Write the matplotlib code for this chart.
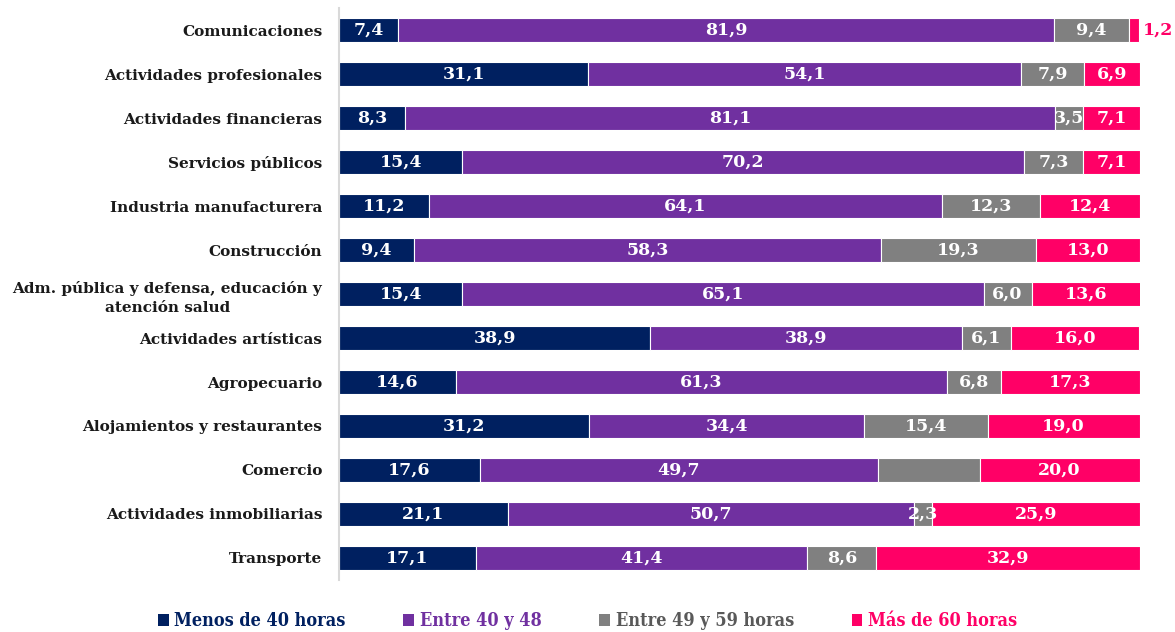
import numpy as np
import matplotlib.pyplot as plt
from matplotlib.patches import Patch

categories = ["Comunicaciones", "Actividades profesionales", "Actividades financieras",
              "Servicios públicos", "Industria manufacturera", "Construcción",
              "Adm. pública y defensa, educación y\natención salud",
              "Actividades artísticas", "Agropecuario", "Alojamientos y restaurantes",
              "Comercio", "Actividades inmobiliarias", "Transporte"]
menos40 = [7.4, 31.1, 8.3, 15.4, 11.2, 9.4, 15.4, 38.9, 14.6, 31.2, 17.6, 21.1, 17.1]
entre40_48 = [81.9, 54.1, 81.1, 70.2, 64.1, 58.3, 65.1, 38.9, 61.3, 34.4, 49.7, 50.7, 41.4]
entre49_59 = [9.4, 7.9, 3.5, 7.3, 12.3, 19.3, 6.0, 6.1, 6.8, 15.4, 12.7, 2.3, 8.6]
mas60 = [1.2, 6.9, 7.1, 7.1, 12.4, 13.0, 13.6, 16.0, 17.3, 19.0, 20.0, 25.9, 32.9]
series_names = ["Menos de 40 horas", "Entre 40 y 48", "Entre 49 y 59 horas", "Más de 60 horas"]
colors = ["#002060", "#7030A0", "#808080", "#FF0066"]

font = "DejaVu Serif"
fig = plt.figure(figsize=(11.75, 6.32), dpi=100)
ax = fig.add_axes([0.2885, 0.0823, 0.6815, 0.905])

y = np.arange(len(categories))
left = np.zeros(len(categories))
for vals, c in zip([menos40, entre40_48, entre49_59, mas60], colors):
    vals = np.array(vals)
    ax.barh(y, vals, left=left, height=0.54, color=c, edgecolor="white", linewidth=0.8)
    for i, v in enumerate(vals):
        if categories[i] == "Comercio" and c == "#808080":
            continue  # no label on this segment in the original
        if v < 2:
            ax.text(left[i] + v + 0.5, y[i], f"{v:.1f}".replace(".", ","), color=c,
                    ha="left", va="center", fontsize=12.5, fontweight="bold", family=font)
        else:
            ax.text(left[i] + v / 2, y[i], f"{v:.1f}".replace(".", ","), color="white",
                    ha="center", va="center", fontsize=12.5, fontweight="bold", family=font)
    left += vals

ax.set_xlim(0, 100)
ax.set_ylim(len(categories) - 0.5, -0.5)
ax.set_yticks(y)
ax.set_yticklabels(categories, fontsize=11, fontweight="bold", family=font,
                   multialignment="center", linespacing=1.45, color="#1a1a1a")
ax.tick_params(axis="y", length=0, pad=12)
ax.set_xticks([])
for s in ["top", "right", "bottom"]:
    ax.spines[s].set_visible(False)
ax.spines["left"].set_color("#d9d9d9")
ax.spines["left"].set_linewidth(1.5)

handles = [Patch(facecolor=c) for c in colors]
leg = fig.legend(handles, series_names, loc="center", bbox_to_anchor=(0.5, 0.017),
                 ncol=4, frameon=False, handlelength=0.6, handleheight=0.6,
                 handletextpad=0.3, columnspacing=3.2,
                 prop={"family": font, "weight": "bold", "size": 13, "stretch": "condensed"})
for t, c in zip(leg.get_texts(), colors):
    t.set_color(c)
leg.get_texts()[2].set_color("#595959")

fig.savefig("out.png", dpi=100)
